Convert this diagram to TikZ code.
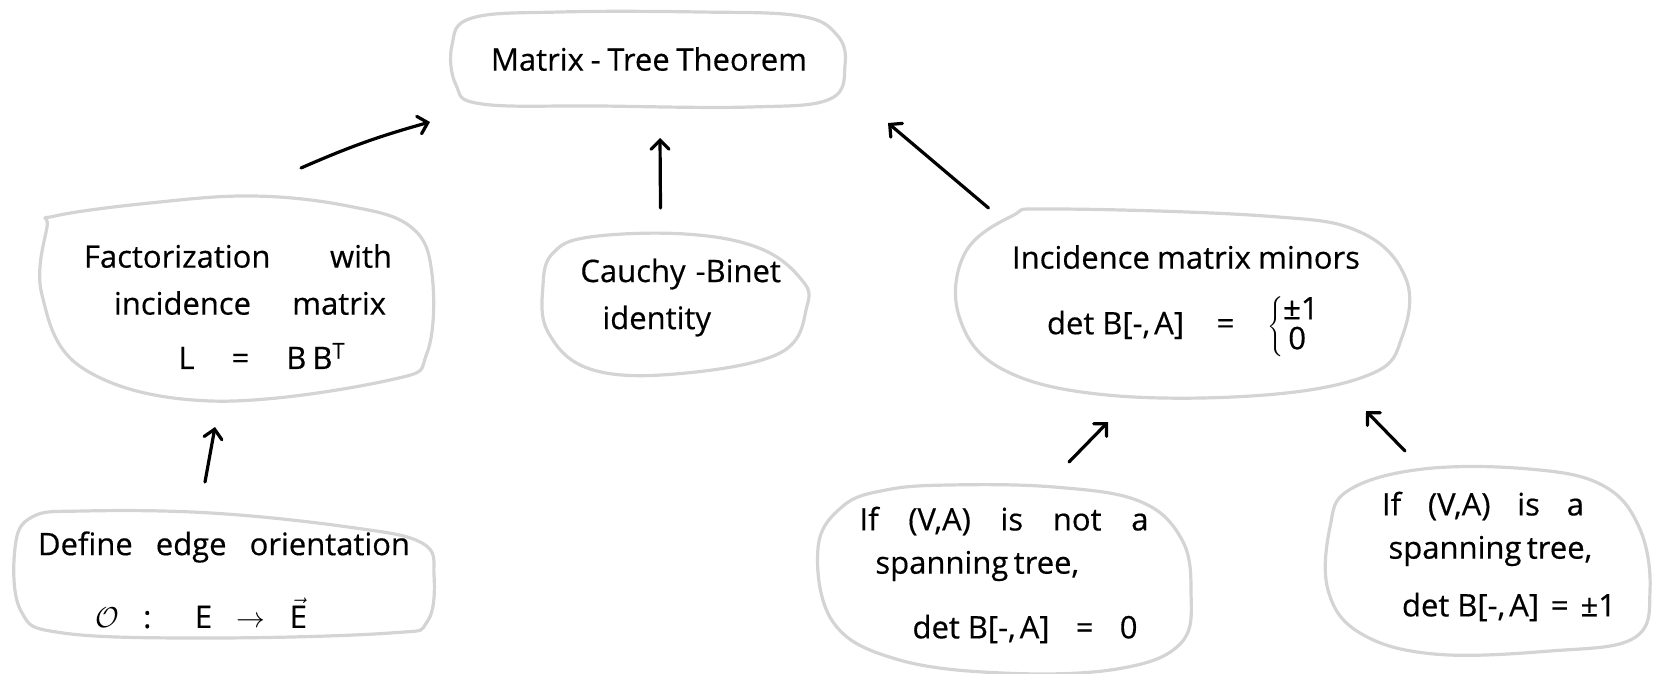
\documentclass[tikz,border=0pt]{standalone}
\usepackage{fontspec}
\setmainfont{Open Sans}
\newfontfamily\hand{Open Sans}[FakeBold=0.45]
\usetikzlibrary{arrows.meta}
\definecolor{blobc}{RGB}{212,212,212}
\begin{document}
\begin{tikzpicture}[x=0.5pt,y=-0.5pt,
  blob/.style={draw=blobc,line width=1.6pt,line join=round},
  box/.style={draw=none,inner sep=0pt,outer sep=0pt},
  txt/.style={inner sep=0pt,font=\hand\fontsize{15.5}{18}\selectfont,anchor=center},
  arr/.style={line width=1.6pt,line cap=round,line join=round,-{Straight Barb[length=4.5pt,width=9pt,line cap=round]}}]
\useasboundingbox (0,0) rectangle (1653,674);

% box nodes (for connectors)
\node[box,minimum width=197pt,minimum height=48.5pt] (mtt) at (648,59.5) {};
\node[box,minimum width=197pt,minimum height=104pt] (fact) at (235,299) {};
\node[box,minimum width=132.5pt,minimum height=73.5pt] (cauchy) at (675.5,303.5) {};
\node[box,minimum width=223.5pt,minimum height=95.5pt] (incid) at (1182.5,302.5) {};
\node[box,minimum width=209.5pt,minimum height=65.5pt] (define) at (224.5,574.5) {};
\node[box,minimum width=186.5pt,minimum height=97pt] (ifnot) at (1004.5,577) {};
\node[box,minimum width=163.5pt,minimum height=95pt] (ifis) at (1487.5,561) {};

% blobs
\draw[blob] plot[smooth cycle,tension=0.65] coordinates {(472,18) (560,12) (700,12) (800,16) (837,35) (845,65) (830,99) (750,107) (600,106) (482,104) (456,85) (452,45)};
\draw[blob] plot[smooth cycle,tension=0.65] coordinates {(55,216) (150,203) (253,196) (348,206) (411,227) (432,274) (427,353) (390,380) (211,401) (84,369) (42,295) (47,227)};
\draw[blob] plot[smooth cycle,tension=0.65] coordinates {(590,237) (685,234) (759,248) (801,279) (807,306) (780,353) (675,374) (590,369) (548,332) (543,285) (553,253)};
\draw[blob] plot[smooth cycle,tension=0.65] coordinates {(1012,216) (1054,209) (1265,216) (1360,232) (1406,279) (1402,337) (1371,374) (1265,395) (1107,395) (1002,369) (959,316) (965,253)};
\draw[blob] plot[smooth cycle,tension=0.65] coordinates {(32,517) (84,511) (211,513) (348,527) (422,543) (434,575) (427,622) (390,633) (211,638) (63,633) (21,611) (15,548)};
\draw[blob] plot[smooth cycle,tension=0.65] coordinates {(886,490) (949,485) (1054,487) (1139,501) (1181,538) (1191,590) (1181,643) (1117,669) (1002,673) (896,659) (833,622) (818,548) (843,506)};
\draw[blob] plot[smooth cycle,tension=0.65] coordinates {(1349,490) (1423,469) (1529,469) (1602,485) (1639,527) (1650,590) (1634,638) (1550,651) (1434,654) (1360,633) (1328,590) (1330,527)};

% texts
\node[txt] (t1) at (649,59) {\makebox[158pt][s]{Matrix - Tree Theorem}};

\node[txt] (f1) at (238,256) {\makebox[154pt][s]{Factorization with}};
\node[txt] (f2) at (250,303) {\makebox[136pt][s]{incidence matrix}};
\node[txt] (f3) at (262,356) {\makebox[83.5pt][s]{L = B\kern3pt B\textsuperscript{T}}};

\node[txt,anchor=west] (c1) at (580,274) {Cauchy\kern5pt-Binet};
\node[txt,anchor=west] (c2) at (602,321) {identity};

\node[txt] (i1) at (1186,257) {\makebox[174pt][s]{Incidence matrix minors}};
\node[txt] (i2) at (1184,327) {\makebox[137pt][s]{det\kern4pt B[-,\kern2pt A] = $\left\{\begin{tabular}{@{}l@{}}±1\\[-3pt] \,0\end{tabular}\right.$}};

\node[txt] (d1) at (224,547) {\makebox[186pt][s]{Define edge orientation}};
\node[txt] (d2) at (201,613) {\makebox[106pt][s]{$\mathcal{O}$ : E $\rightarrow$ $\vec{\mbox{E}}$}};

\node[txt] (n1) at (1004,521) {\makebox[144.5pt][s]{If (V,A) is not a}};
\node[txt,anchor=west] (n2) at (875,566) {\makebox[99pt][s]{spanning tree,}};
\node[txt] (n3) at (1025,629) {\makebox[112.5pt][s]{det\kern4pt B[-,\kern2pt A] = 0}};

\node[txt] (s1) at (1483,506) {\makebox[101pt][s]{If (V,A) is a}};
\node[txt] (s2) at (1483,551) {\makebox[94.5pt][s]{spanning tree,}};
\node[txt] (s3) at (1509,607) {\makebox[107pt][s]{det\kern4pt B[-,\kern2pt A] = ±1}};

% connectors
\draw[arr] ([shift={(66,-27)}]fact.north) to[bend left=4] ([shift={(-21,14)}]mtt.south west);
\draw[arr] ([shift={(-15,-22)}]cauchy.north) -- ([shift={(12,30)}]mtt.south);
\draw[arr] ([shift={(-194,1)}]incid.north) -- ([shift={(43,15)}]mtt.south east);
\draw[arr] ([shift={(-19.5,-27)}]define.north) -- ([shift={(-20,24)}]fact.south);
\draw[arr] ([shift={(64.5,-18)}]ifnot.north) -- ([shift={(-74.5,24)}]incid.south);
\draw[arr] ([shift={(-82.5,-15)}]ifis.north) -- ([shift={(183.5,13)}]incid.south);
\end{tikzpicture}
\end{document}
